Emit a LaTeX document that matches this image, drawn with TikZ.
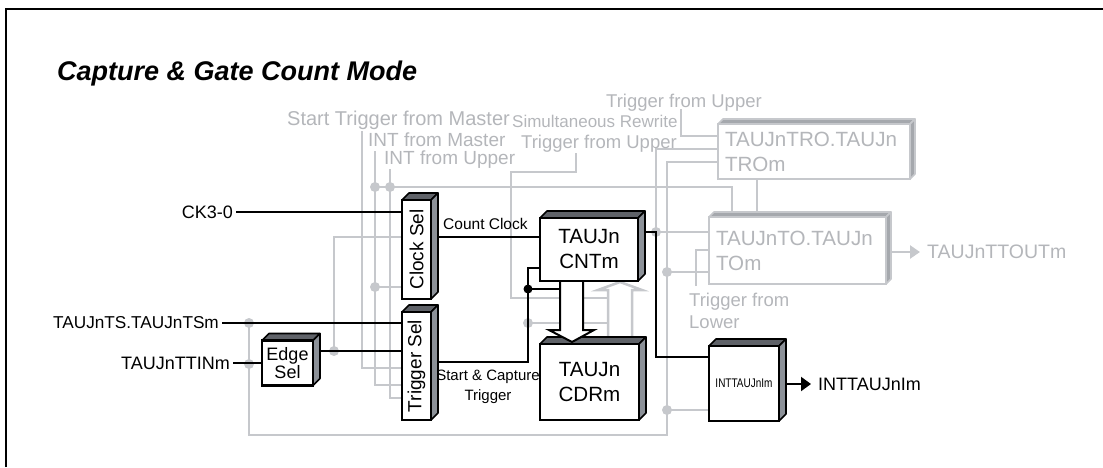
\documentclass[tikz,border=0pt]{standalone}
\usepackage{fontspec}
\setmainfont{Liberation Sans}
\usetikzlibrary{calc,arrows.meta}
\definecolor{lgray}{RGB}{198,200,204}
\definecolor{tgray}{RGB}{180,182,186}
\definecolor{btop}{RGB}{95,98,104}
\definecolor{bside}{RGB}{140,145,152}
\definecolor{gface}{RGB}{165,168,173}
\newcommand\fs[2]{\fontsize{#1}{#2}\selectfont}
\newcommand\boxfaces[5]{%
  \filldraw[fill=#3,draw=#5,line width=1.6pt,line join=round]
    (#1.north west) -- ([shift={(#2,-#2)}]#1.north west) -- ([shift={(#2,-#2)}]#1.north east) -- (#1.north east) -- cycle;
  \filldraw[fill=#4,draw=#5,line width=1.6pt,line join=round]
    (#1.north east) -- ([shift={(#2,-#2)}]#1.north east) -- ([shift={(#2,-#2)}]#1.south east) -- (#1.south east) -- cycle;
}
\pgfdeclarelayer{bg}
\pgfdeclarelayer{mid}
\pgfsetlayers{bg,mid,main}
\begin{document}
\begin{tikzpicture}[x=1pt,y=-1pt,
  blk/.style={draw=black,line width=2.2pt,fill=white,inner sep=0pt,outer sep=0pt,align=center},
  gbox/.style={draw=lgray,line width=2.4pt,fill=white,inner sep=0pt,outer sep=0pt,text=tgray,align=left},
  wire/.style={line width=2pt,black},
  gwire/.style={line width=2.5pt,lgray},
  lbl/.style={inner xsep=3pt,inner ysep=0pt,font=\fs{18}{22}},
  glbl/.style={inner xsep=0pt,inner ysep=0pt,text=tgray,font=\fs{18.5}{22}},
  gdot/.style={circle,fill=lgray,inner sep=0pt,minimum size=10pt},
  bdot/.style={circle,fill=black,inner sep=0pt,minimum size=9pt},
]
\useasboundingbox (0,0) rectangle (1103,467);
% frame
\draw[line width=2pt] (6,467) -- (6,9) -- (1103,9);
% title
\node[anchor=base west,inner sep=0pt,font=\fs{27}{30}\bfseries\itshape] (title) at (57,80) {Capture \& Gate Count Mode};

% boxes
\node[blk,minimum width=29pt,minimum height=99pt,font=\fs{19}{22}] (clk) at (416.5,249.5) {\rotatebox{90}{Clock Sel}};
\node[blk,minimum width=29pt,minimum height=108pt,font=\fs{19}{22}] (trg) at (416.5,366) {\rotatebox{90}{Trigger Sel}};
\node[blk,minimum width=51pt,minimum height=45pt,font=\fs{18}{16.5}] (edge) at (287.5,363) {Edge\\Sel};
\node[blk,minimum width=98pt,minimum height=63pt,font=\fs{20.6}{25}] (cnt) at (589,249.5) {TAUJn\\CNTm};
\node[blk,minimum width=99pt,minimum height=76pt,font=\fs{20.6}{25}] (cdr) at (589.5,382) {TAUJn\\CDRm};
\node[blk,minimum width=70pt,minimum height=75pt,font=\fs{12.5}{14}] (intb) at (744,383.5) {\scalebox{0.8}[1]{INTTAUJnIm}};
\node[gbox,minimum width=192pt,minimum height=55pt,text width=178pt,inner xsep=7pt,font=\fs{20.6}{25}] (tro) at (814,151.5) {TAUJnTRO.TAUJn\\TROm};
\node[gbox,minimum width=177pt,minimum height=67pt,text width=163pt,inner xsep=7pt,font=\fs{20.6}{25}] (to) at (797.5,250.5) {TAUJnTO.TAUJn\\TOm};

\begin{pgfonlayer}{mid}
\boxfaces{clk}{7}{btop}{bside}{black}
\boxfaces{trg}{7}{btop}{bside}{black}
\boxfaces{edge}{7}{btop}{bside}{black}
\boxfaces{cnt}{7}{btop}{bside}{black}
\boxfaces{cdr}{7}{btop}{bside}{black}
\boxfaces{intb}{7}{btop}{bside}{black}
\boxfaces{tro}{5}{gface}{gface}{lgray}
\boxfaces{to}{5}{gface}{gface}{lgray}
\end{pgfonlayer}

% black labels
\node[lbl,anchor=east] (ck) at (236,212) {CK3-0};
\node[lbl,anchor=east,font=\fs{17.2}{22}] (ts) at (222,323) {TAUJnTS.TAUJnTSm};
\node[lbl,anchor=east] (ttin) at (233,363) {TAUJnTTINm};
\node[anchor=base west,inner sep=0pt,font=\fs{15.5}{18}] (ccl) at (443,229.5) {Count Clock};
\node[align=center,inner sep=0pt,font=\fs{15}{20}] (sct) at (488,387) {Start \& Capture\\Trigger};
\node[lbl,anchor=west,inner xsep=7pt] (intl) at (811,384) {INTTAUJnIm};

% gray labels
\node[glbl,anchor=base west] (tu1) at (606,107.5) {Trigger from Upper};
\node[glbl,anchor=base east,font=\fs{20}{22}] (stm) at (510,125.5) {Start Trigger from Master};
\node[glbl,anchor=base west,font=\fs{17}{20}] (sr) at (512,127) {Simultaneous Rewrite};
\node[glbl,anchor=base west,font=\fs{19}{22}] (im) at (368,146.5) {INT from Master};
\node[glbl,anchor=base west] (tu2) at (521,148.5) {Trigger from Upper};
\node[glbl,anchor=base west,font=\fs{19}{22}] (iu) at (384,164) {INT from Upper};
\node[glbl,anchor=base west] (tl1) at (689,306.5) {Trigger from};
\node[glbl,anchor=base west] (tl2) at (689,328.5) {Lower};
\node[glbl,anchor=west,inner xsep=7pt,font=\fs{19.5}{22}] (tout) at (920,252) {TAUJnTTOUTm};

% coordinates
\coordinate (eo) at (320,351);
\coordinate (cc) at (437,237);
\coordinate (tso) at (437,362);
\coordinate (tsb) at (528,362);
\coordinate (jn) at (528,289);
\coordinate (jt) at (528,268);
\coordinate (ash) at (560,289);
\coordinate (co) at (645,232);
\coordinate (cr) at (656,232);
\coordinate (cd) at (656,357);
\coordinate (io) at (786,384);
\coordinate (too) at (891,252);

% gray wiring
\begin{pgfonlayer}{bg}
\draw[gwire] (362,131) -- (362,368) -- (trg.west |- 0,368);
\draw[gwire] (375,151) -- (375,385) -- (trg.west |- 0,385);
\draw[gwire] (390,169) -- (390,398) -- (trg.west |- 0,398);
\draw[gwire] (375,187) -- (732,187) -- (732,218);
\draw[gwire] (334,351) -- (334,237) -- (clk.west |- 0,237);
\draw[gwire] (375,287) -- (clk.west |- 0,287);
\draw[gwire] (249,323) -- (249,435) -- (667,435) -- (667,162) -- (tro.west |- 0,162);
\draw[gwire] (667,272) -- (to.west |- 0,272);
\draw[gwire] (667,410) -- (intb.west |- 0,410);
\draw[gwire] (cr) -- (656,149) -- (tro.west |- 0,149);
\draw[gwire] (cr) -- (to.west |- cr);
\draw[gwire] (681,109) -- (681,136) -- (tro.west |- 0,136);
\draw[gwire] (757,179) -- (757,218);
\draw[gwire] (696,286) -- (696,250) -- (to.west |- 0,250);
\draw[gwire] (576,153) -- (576,172) -- (511,172) -- (511,298) -- (608,298);
\draw[gwire] (528,323) -- (608,323);
\draw[gwire,fill=white,line join=miter] (608,338) -- (608,290) -- (598,290) -- (620,282) -- (642,290) -- (632,290) -- (632,338);
\draw[gwire,-{Triangle[length=10pt,width=13pt]}] (too) -- (tout.west);
\end{pgfonlayer}

% gray dots
\foreach \p in {(375,187),(390,187),(375,287),(334,351),(249,323),(249,364),(528,323),(656,232),(667,272),(667,410)}
  \node[gdot] at \p {};

% black wiring
\draw[wire] (ck.east) -- (ck.east -| clk.west);
\draw[wire] (ts.east) -- (ts.east -| trg.west);
\draw[wire] (ttin.east) -- (ttin.east -| edge.west);
\draw[wire] (eo) -- (eo -| trg.west);
\draw[wire] (cc) -- (cc -| cnt.west);
\draw[wire] (tso) -- (tsb) -- (jt) -- (jt -| cnt.west);
\draw[wire] (jn) -- (ash);
\draw[wire] (co) -- (cr) -- (cd) -- (cd -| intb.west);
\draw[wire,-{Triangle[length=10pt,width=14pt]}] (io) -- (intl.west);
\node[bdot] at (jn) {};
% big hollow arrow
\draw[black,line width=2pt,fill=white,line join=miter] (560,282) -- (560,330) -- (549,330) -- (572,342) -- (594,330) -- (583,330) -- (583,282);
\end{tikzpicture}
\end{document}
